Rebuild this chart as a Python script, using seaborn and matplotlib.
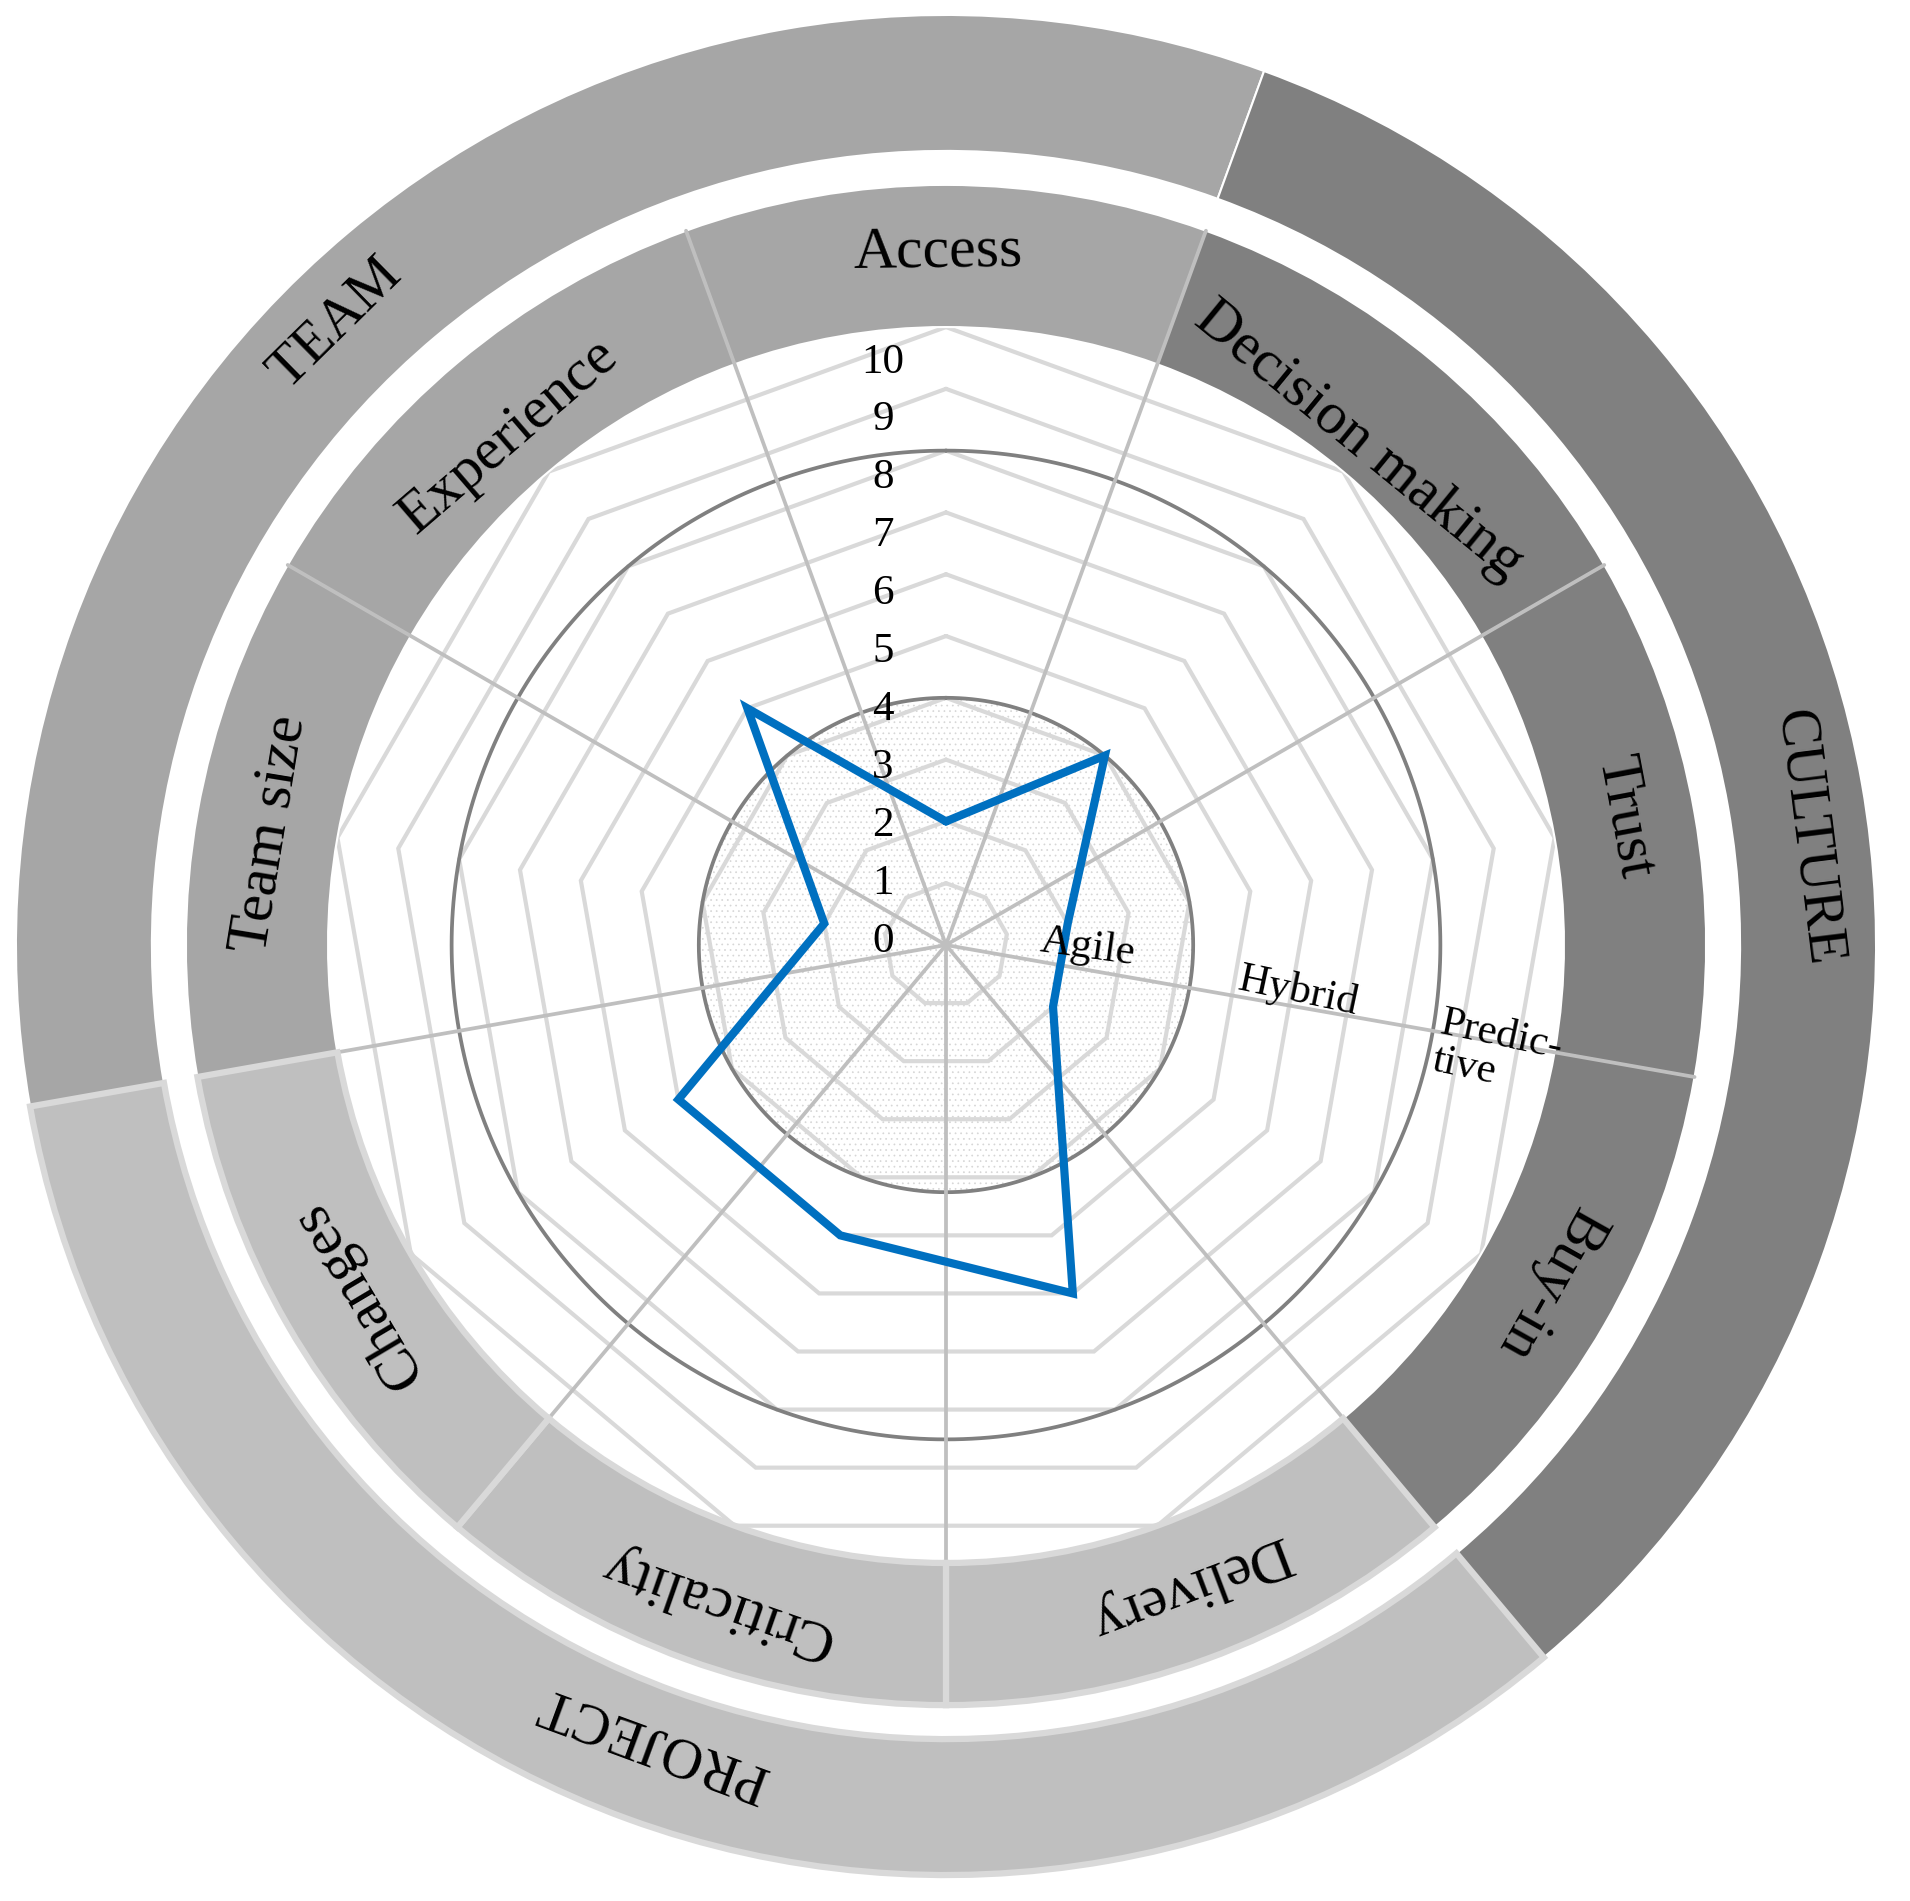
import numpy as np
import matplotlib
matplotlib.use("Agg")
import matplotlib.pyplot as plt
import seaborn as sns
from matplotlib.transforms import offset_copy

# ---------------- data ----------------
categories = ["Access", "Decision making", "Trust", "Buy-in", "Delivery",
              "Criticality", "Changes", "Team size", "Experience"]
values = [2, 4, 2, 2, 6, 5, 5, 2, 5]
category_group = ["TEAM", "CULTURE", "CULTURE", "CULTURE", "PROJECT",
                  "PROJECT", "PROJECT", "TEAM", "TEAM"]
groups = ["TEAM", "CULTURE", "PROJECT"]
scale_ticks = list(range(0, 11))
approach_labels = ["Agile", "Hybrid", "Predic-\ntive"]
approach_levels = [2.3, 5.76, 9.1]

# ---------------- style ----------------
sns.set_style("white")
plt.rcParams["font.family"] = ["Liberation Serif", "DejaVu Serif"]
plt.rcParams["text.color"] = "black"
plt.rcParams["hatch.linewidth"] = 0.5

group_colors = {"TEAM": "#a6a6a6", "CULTURE": "#808080", "PROJECT": "#bfbfbf"}
group_edge = {"TEAM": ("white", 1.5), "CULTURE": ("white", 1.5), "PROJECT": ("#d9d9d9", 4.5)}

R_MAX = 15.3
INNER_BAND = (10.0, 12.3)
OUTER_BAND = (12.85, 15.05)

fig = plt.figure(figsize=(19.10, 19.01), dpi=100)
ax = fig.add_axes([0.00026, 0.00552, 0.99005, 0.99474], projection="polar")
ax.set_theta_zero_location("N")
ax.set_theta_direction(-1)
ax.set_ylim(0, R_MAX)
ax.set_axis_off()

n = len(categories)
step = 2 * np.pi / n
theta = np.arange(n) * step
theta_closed = np.append(theta, theta[0] + 2 * np.pi)

# dotted shaded disc (0..4)
ax.bar(0, 4, width=2 * np.pi, bottom=0, facecolor="white", edgecolor="#d6d6d6",
       hatch="...", linewidth=0, zorder=1)

# grid polygons
for lvl in scale_ticks[1:]:
    ax.plot(theta_closed, [lvl] * (n + 1), color="#d9d9d9", lw=3.0, zorder=2,
            solid_joinstyle="miter")

# dark circles at 4 and 8
circ = np.linspace(0, 2 * np.pi, 721)
for lvl in (4, 8):
    ax.plot(circ, np.full_like(circ, lvl), color="#808080", lw=2.7, zorder=3)

# bands: TEAM / CULTURE below spokes, PROJECT above
def draw_bands(gsel, z):
    for i, cat in enumerate(categories):
        g = category_group[i]
        if g not in gsel:
            continue
        ec, lw = group_edge[g]
        ax.bar(theta[i], INNER_BAND[1] - INNER_BAND[0], width=step, bottom=INNER_BAND[0],
               color=group_colors[g], edgecolor=ec, linewidth=lw, zorder=z)
    for g in gsel:
        idx = [i for i, cg in enumerate(category_group) if cg == g]
        center = np.angle(np.mean(np.exp(1j * theta[idx])))
        ec, lw = group_edge[g]
        ax.bar(center, OUTER_BAND[1] - OUTER_BAND[0], width=step * len(idx),
               bottom=OUTER_BAND[0], color=group_colors[g], edgecolor=ec,
               linewidth=lw, zorder=z)

draw_bands(["TEAM", "CULTURE"], 4)

# spokes at category boundaries
for b in theta + step / 2:
    ax.plot([b, b], [0, INNER_BAND[1]], color="#bfbfbf", lw=2.7, zorder=5)

draw_bands(["PROJECT"], 6)

# data line
sns.lineplot(x=theta_closed, y=np.append(values, values[0]), sort=False, ax=ax,
             color="#0070c0", linewidth=5.9, zorder=7, solid_joinstyle="miter")
ax.set_xlabel("")
ax.set_ylabel("")

# scale numbers
num_tr = offset_copy(ax.transData, fig=fig, x=-63, y=0, units="dots")
for v in scale_ticks:
    ax.text(0, 0.06 + 0.937 * v, str(v), transform=num_tr, ha="center",
            va="center", fontsize=31, color="black", zorder=8)

# approach labels
approach_theta = [91.0, 97.6, 101.2]
approach_rot = [-8, -12, -12]
for lab, lv, th, rot in zip(approach_labels, approach_levels, approach_theta, approach_rot):
    ax.text(np.deg2rad(th), lv, lab, ha="center", va="center", rotation=rot,
            rotation_mode="anchor", fontsize=31, linespacing=1.0,
            multialignment="left", color="black", zorder=8)

# category labels
label_r = [11.2, 10.55, 11.17, 11.2, 11.1, 11.25, 11.08, 11.08, 10.85]
for i, cat in enumerate(categories):
    deg = np.rad2deg(theta[i]) - 0.7
    ax.text(np.deg2rad(deg), label_r[i], cat, ha="center", va="center",
            rotation=-deg, rotation_mode="anchor", fontsize=43, color="black",
            zorder=9)

# group labels
group_deg = {"TEAM": -44.5, "CULTURE": 82.9, "PROJECT": 200.2}
group_r = {"TEAM": 14.1, "CULTURE": 14.05, "PROJECT": 13.74}
for g in groups:
    d = group_deg[g]
    ax.text(np.deg2rad(d), group_r[g], g, ha="center", va="center",
            rotation=-d, rotation_mode="anchor", fontsize=41, color="black",
            zorder=9)

fig.savefig("out.png", dpi=100, facecolor="white")
